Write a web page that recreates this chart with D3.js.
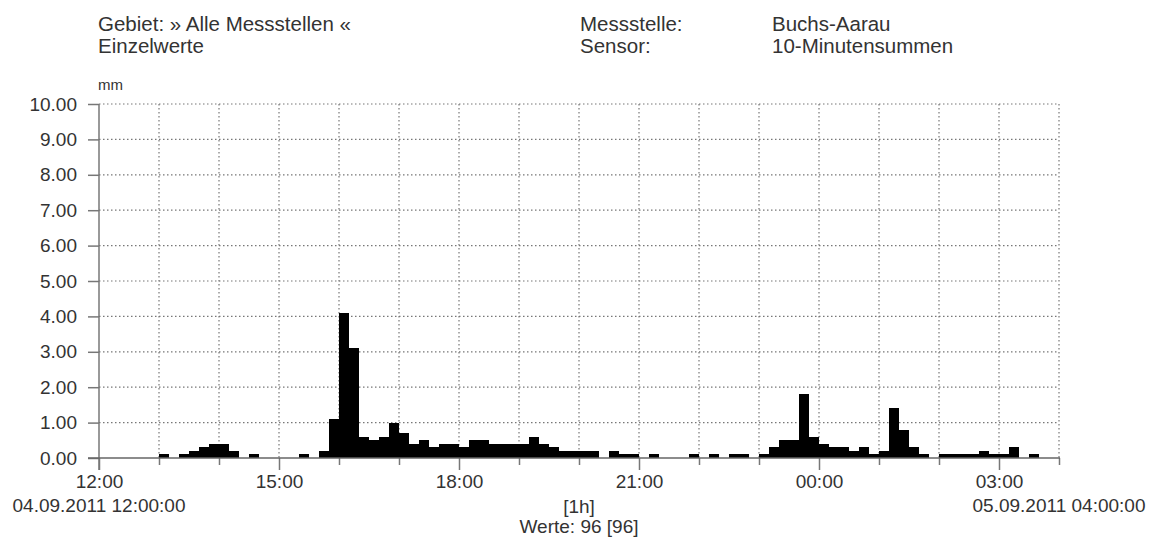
<!DOCTYPE html>
<html>
<head>
<meta charset="utf-8" />
<script src="https://cdn.jsdelivr.net/npm/d3@7"></script>
<style>
  body { margin: 0; background: #fff; }
  text { font-family: "Liberation Sans", Arial, sans-serif; fill: #333; }
</style>
</head>
<body>
<div id="chart"></div>
<script>
// 10-Minutensummen, 04.09.2011 12:00 - 05.09.2011 04:00 (96 Werte)
const startTime = new Date(2011, 8, 4, 12, 0);
const endTime = new Date(2011, 8, 5, 4, 0);
const stepMinutes = 10;
const values = [
  0, 0, 0, 0, 0, 0, 0.1, 0, 0.1, 0.2, 0.3, 0.4,
  0.4, 0.2, 0, 0.1, 0, 0, 0, 0, 0.1, 0, 0.2, 1.1,
  4.1, 3.1, 0.6, 0.5, 0.6, 1.0, 0.7, 0.4, 0.5, 0.3, 0.4, 0.4,
  0.3, 0.5, 0.5, 0.4, 0.4, 0.4, 0.4, 0.6, 0.4, 0.3, 0.2, 0.2,
  0.2, 0.2, 0, 0.2, 0.1, 0.1, 0, 0.1, 0, 0, 0, 0.1,
  0, 0.1, 0, 0.1, 0.1, 0, 0.1, 0.3, 0.5, 0.5, 1.8, 0.6,
  0.4, 0.3, 0.3, 0.2, 0.3, 0.1, 0.2, 1.4, 0.8, 0.3, 0.1, 0,
  0.1, 0.1, 0.1, 0.1, 0.2, 0.1, 0.1, 0.3, 0, 0.1, 0, 0
];
const yTicks = [0, 1, 2, 3, 4, 5, 6, 7, 8, 9, 10];
const headerLeft = ["Gebiet: » Alle Messstellen «", "Einzelwerte"];
const headerKeys = ["Messstelle:", "Sensor:"];
const headerVals = ["Buchs-Aarau", "10-Minutensummen"];
const unitLabel = "mm";
const startLabel = "04.09.2011 12:00:00";
const endLabel = "05.09.2011 04:00:00";
const intervalLabel = "[1h]";
const countLabel = "Werte: 96 [96]";

const width = 1150, height = 537;
const plotL = 99, plotR = 1059, plotT = 104, plotB = 458;

const svg = d3.select("#chart").append("svg")
  .attr("width", width).attr("height", height);

const x = d3.scaleTime().domain([startTime, endTime]).range([plotL, plotR]);
const y = d3.scaleLinear().domain([0, 10]).range([plotB, plotT]);

const data = values.map((v, i) => ({
  t0: d3.timeMinute.offset(startTime, i * stepMinutes),
  t1: d3.timeMinute.offset(startTime, (i + 1) * stepMinutes),
  v
}));

// header
svg.append("g").selectAll("text").data(headerLeft).join("text")
  .attr("x", 98).attr("y", (d, i) => 31 + i * 22)
  .style("font-size", "20.5px").text(d => d);
svg.append("g").selectAll("text").data(headerKeys).join("text")
  .attr("x", 580).attr("y", (d, i) => 31 + i * 22)
  .style("font-size", "20.5px").text(d => d);
svg.append("g").selectAll("text").data(headerVals).join("text")
  .attr("x", 772).attr("y", (d, i) => 31 + i * 22)
  .style("font-size", "20.5px").text(d => d);

svg.append("text").attr("x", 98).attr("y", 90)
  .style("font-size", "15px").text(unitLabel);

// grid
const hours = d3.timeHour.range(startTime, d3.timeHour.offset(endTime, 1));
svg.append("g").selectAll("line").data(hours.slice(1)).join("line")
  .attr("x1", d => x(d)).attr("x2", d => x(d))
  .attr("y1", plotT).attr("y2", plotB)
  .attr("stroke", "#777").attr("stroke-width", 1.2)
  .attr("stroke-dasharray", "1.5,2.5");
svg.append("g").selectAll("line").data(yTicks.slice(1)).join("line")
  .attr("x1", plotL).attr("x2", plotR)
  .attr("y1", d => y(d)).attr("y2", d => y(d))
  .attr("stroke", "#777").attr("stroke-width", 1.2)
  .attr("stroke-dasharray", "1.5,2.5");

// bars
svg.append("g").selectAll("rect").data(data.filter(d => d.v > 0)).join("rect")
  .attr("x", d => x(d.t0))
  .attr("width", d => x(d.t1) - x(d.t0))
  .attr("y", d => y(d.v))
  .attr("height", d => y(0) - y(d.v))
  .attr("fill", "#000")
  .attr("shape-rendering", "crispEdges");

// y axis
const yAxis = svg.append("g").attr("transform", `translate(${plotL},0)`)
  .call(d3.axisLeft(y).tickValues(yTicks).tickFormat(d3.format(".2f"))
    .tickSize(11).tickPadding(11));
yAxis.select(".domain").remove();
yAxis.selectAll(".tick line").attr("stroke", "#777").attr("stroke-width", 1.5);
yAxis.selectAll(".tick text").style("font-size", "19px").attr("fill", "#333");
svg.append("line").attr("x1", plotL).attr("x2", plotL)
  .attr("y1", plotT).attr("y2", plotB + 12)
  .attr("stroke", "#777").attr("stroke-width", 1.5);

// x axis
const isMajor = d => d.getHours() % 3 === 0 && d < endTime;
const xAxis = svg.append("g").attr("transform", `translate(0,${plotB})`)
  .call(d3.axisBottom(x).tickValues(hours)
    .tickFormat(d => isMajor(d) ? d3.timeFormat("%H:%M")(d) : "")
    .tickSize(7));
xAxis.select(".domain").remove();
xAxis.selectAll(".tick line")
  .attr("y2", d => isMajor(d) ? 12 : 7)
  .attr("stroke", "#777").attr("stroke-width", 1.5);
xAxis.selectAll(".tick text").attr("y", 30).attr("dy", 0)
  .style("font-size", "19px").attr("fill", "#333");
svg.append("line").attr("x1", plotL - 11).attr("x2", plotR + 1)
  .attr("y1", plotB).attr("y2", plotB)
  .attr("stroke", "#666").attr("stroke-width", 1.5);

// footer labels
svg.append("text").attr("x", x(startTime)).attr("y", 512)
  .attr("text-anchor", "middle").style("font-size", "19px").text(startLabel);
svg.append("text").attr("x", x(endTime)).attr("y", 512)
  .attr("text-anchor", "middle").style("font-size", "19px").text(endLabel);
svg.append("text").attr("x", (plotL + plotR) / 2).attr("y", 513)
  .attr("text-anchor", "middle").style("font-size", "19px").text(intervalLabel);
svg.append("text").attr("x", (plotL + plotR) / 2).attr("y", 533)
  .attr("text-anchor", "middle").style("font-size", "19px").text(countLabel);
</script>
</body>
</html>
